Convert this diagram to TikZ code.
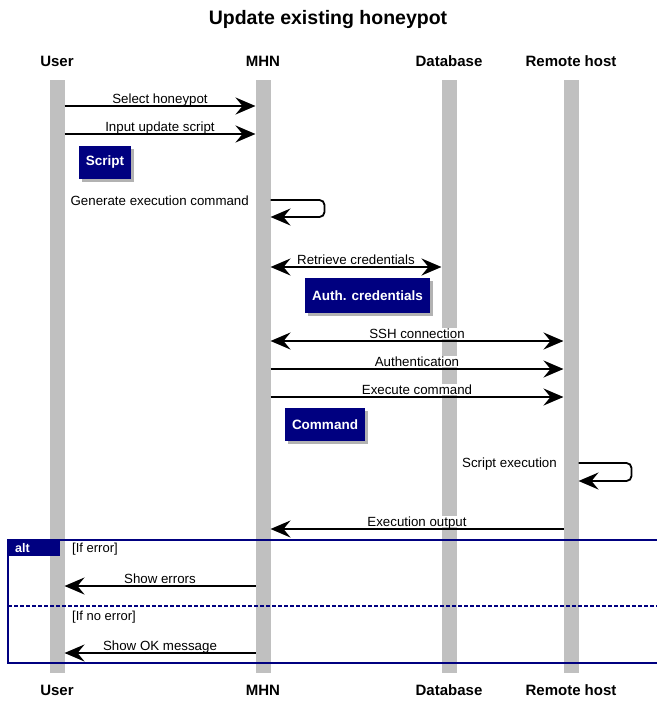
\documentclass[tikz,border=0pt]{standalone}
\usepackage{fontspec}
\setmainfont{Liberation Sans}
\usetikzlibrary{arrows.meta,shadows,calc}
\definecolor{navy}{HTML}{000080}
\definecolor{lifegray}{HTML}{C0C0C0}

\begin{document}
\begin{tikzpicture}[x=1pt,y=-1pt,>={Stealth[length=20pt,width=17pt,inset=7pt]},
    msg/.style={draw,->,line width=1.8pt},
    dmsg/.style={draw,<->,line width=1.8pt},
    lbl/.style={font=\fontsize{13.3}{15}\selectfont,fill=white,inner sep=0.5pt,text depth=0pt,anchor=base,yshift=3pt},
    cond/.style={font=\fontsize{13}{15}\selectfont,anchor=west,inner sep=0pt},
    head/.style={font=\fontsize{15}{17}\selectfont\bfseries},
    life/.style={fill=lifegray},
    obj/.style={fill=navy,text=white,font=\fontsize{13.5}{16}\selectfont\bfseries,minimum height=33pt,inner xsep=7pt,drop shadow={fill=black!60,opacity=0.5,shadow xshift=3pt,shadow yshift=-3pt}},
    frame/.style={draw=navy,line width=2.4pt},
    alttab/.style={fill=navy,text=white,font=\fontsize{12.5}{14}\selectfont\bfseries,anchor=north west,minimum height=16pt,text width=38pt,inner xsep=7pt,inner ysep=0pt}]
    \useasboundingbox (0,0) rectangle (656,701);

    \node[font=\fontsize{19.5}{22}\selectfont\bfseries] (title) at (328,20) {Update existing honeypot};

    % lifelines
    \foreach \x in {57,263,449,571}
        \fill[life] (\x-7.5,80) rectangle (\x+7.5,673);

    \node[head] (user) at (57,61) {User};
    \node[head] (mhn) at (263,61) {MHN};
    \node[head] (db) at (449,61) {Database};
    \node[head] (rh) at (571,61) {Remote host};

    \node[head] (user2) at (57,690) {User};
    \node[head] (mhn2) at (263,690) {MHN};
    \node[head] (db2) at (449,690) {Database};
    \node[head] (rh2) at (571,690) {Remote host};

    % message ends
    \coordinate (u1) at (64.5,106);  \coordinate (m1) at (255.5,106);
    \coordinate (u2) at (64.5,134);  \coordinate (m2) at (255.5,134);
    \coordinate (m3) at (270.5,200); \coordinate (m4) at (270.5,217);
    \coordinate (m5) at (270.5,267); \coordinate (d5) at (441.5,267);
    \coordinate (m6) at (270.5,341); \coordinate (r6) at (563.5,341);
    \coordinate (m7) at (270.5,369); \coordinate (r7) at (563.5,369);
    \coordinate (m8) at (270.5,397); \coordinate (r8) at (563.5,397);
    \coordinate (r9) at (578.5,463); \coordinate (r10) at (578.5,481);
    \coordinate (r11) at (563.5,529); \coordinate (m11) at (270.5,529);
    \coordinate (m12) at (255.5,586); \coordinate (u12) at (64.5,586);
    \coordinate (m13) at (255.5,653); \coordinate (u13) at (64.5,653);

    \node[obj] (script) at (105,162.5) {Script};
    \node[obj,minimum height=35pt] (cred) at (367.5,295.5) {Auth. credentials};
    \node[obj] (cmd) at (325,424.5) {Command};

    \node[font=\fontsize{13.3}{15}\selectfont,anchor=east,inner sep=0pt] (gen) at (249,201) {Generate execution command};
    \node[font=\fontsize{13.3}{15}\selectfont,anchor=east,inner sep=0pt] (exe) at (557,464) {Script execution};

    \path
        (u1) edge[msg] node[lbl] {Select honeypot} (m1)
        (u2) edge[msg] node[lbl] {Input update script} (m2)
        (m5) edge[dmsg] node[lbl] {Retrieve credentials} (d5)
        (m6) edge[dmsg] node[lbl] {SSH connection} (r6)
        (m7) edge[msg] node[lbl] {Authentication} (r7)
        (m8) edge[msg] node[lbl] {Execute command} (r8)
        (r11) edge[msg] node[lbl] {Execution output} (m11)
        (m12) edge[msg] node[lbl] {Show errors} (u12)
        (m13) edge[msg] node[lbl] {Show OK message} (u13)
    ;

    % self messages
    \draw[msg,rounded corners=5pt] (m3) -- ++(54,0) |- (m4);
    \draw[msg,rounded corners=5pt] (r9) -- ++(53,0) |- (r10);

    % alt fragment
    \draw[frame] (8,540) rectangle (666,663);
    \draw[frame,line width=1.5pt,dash pattern=on 4pt off 2pt] (8,606) -- (666,606);
    \node[alttab] (alt) at (8,540) {alt};
    \node[cond] (err) at (72,549) {[If error]};
    \node[cond] (noerr) at (72,617) {[If no error]};
\end{tikzpicture}
\end{document}
